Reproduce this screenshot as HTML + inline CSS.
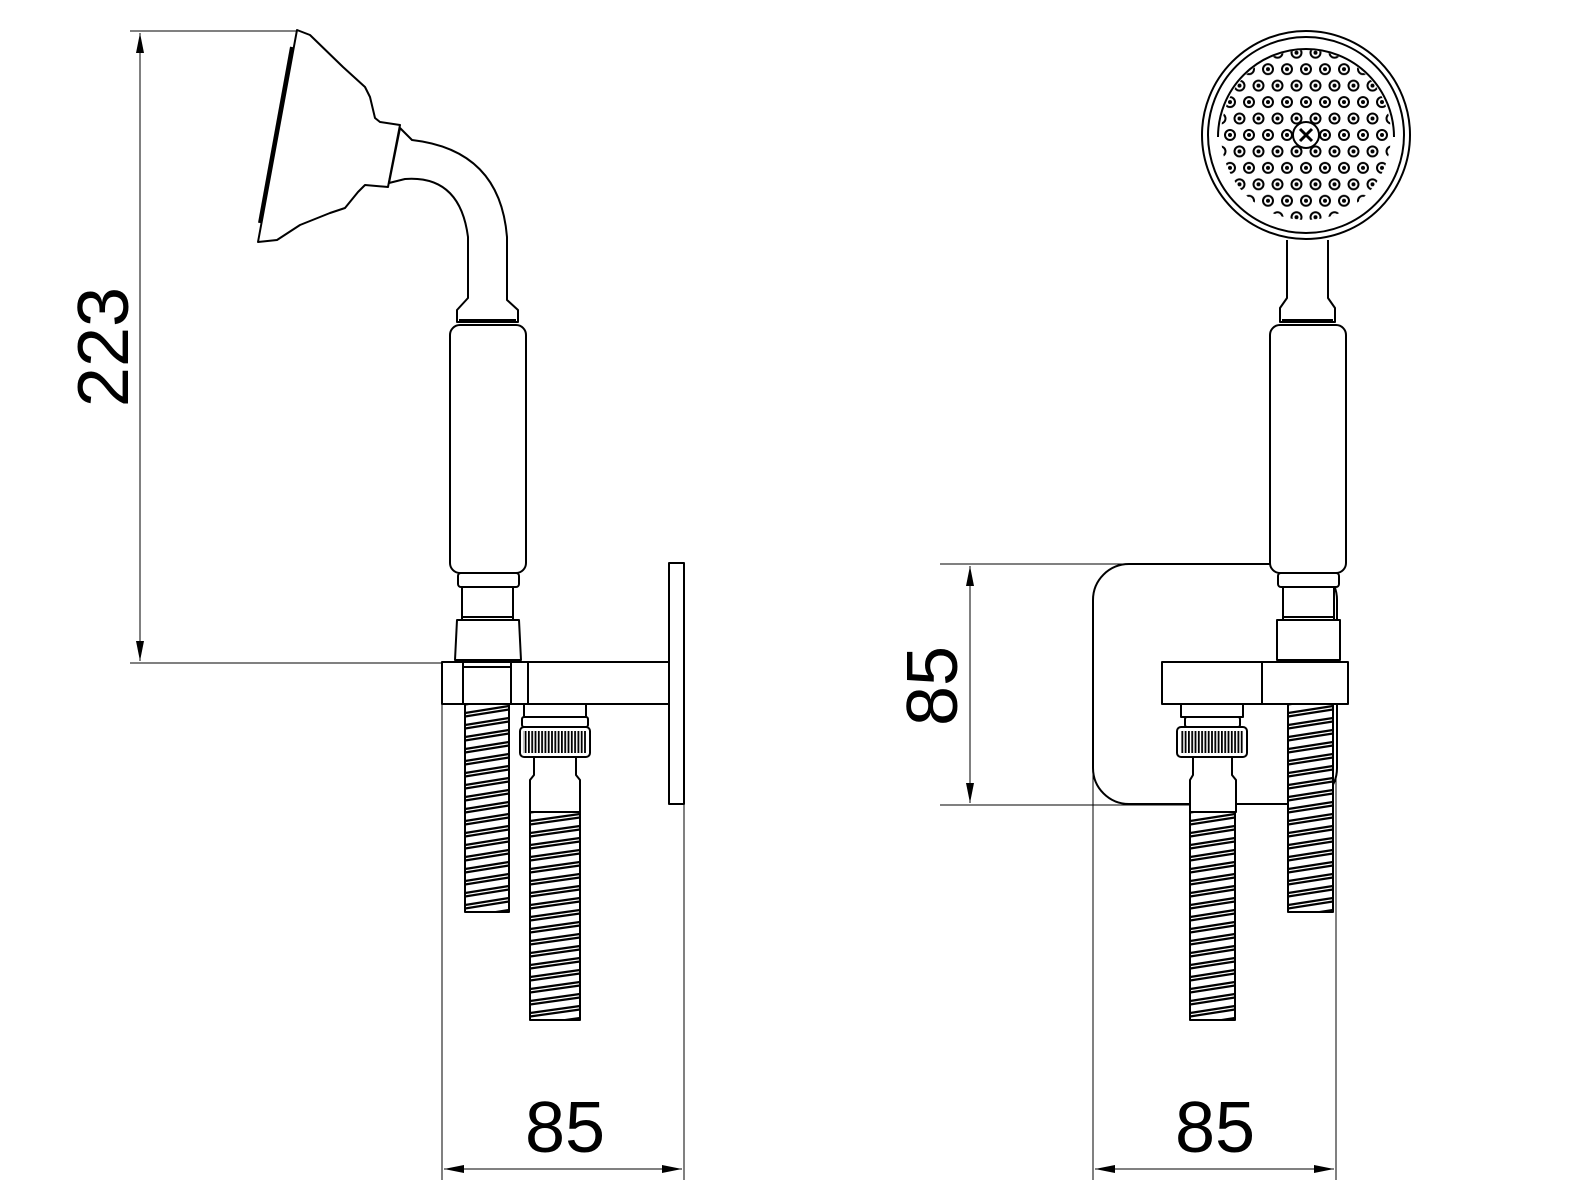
<!DOCTYPE html>
<html><head><meta charset="utf-8"><style>
html,body{margin:0;padding:0;background:#fff;}
svg{display:block}
text{font-family:"Liberation Sans",sans-serif;fill:#000}
</style></head><body>
<svg width="1596" height="1197" viewBox="0 0 1596 1197" xmlns="http://www.w3.org/2000/svg">
<defs>
<marker id="a" viewBox="0 0 20 10" refX="20" refY="5" markerWidth="20" markerHeight="10" markerUnits="userSpaceOnUse" orient="auto-start-reverse"><path d="M0,1 L20,5 L0,9 Z" fill="#000"/></marker>
<pattern id="holes" patternUnits="userSpaceOnUse" x="1296.5" y="125" width="19" height="32.9">
<circle cx="9.5" cy="10" r="5" fill="#fff" stroke="#000" stroke-width="2"/><circle cx="9.5" cy="10" r="2" fill="#000"/>
<circle cx="0" cy="26.45" r="5" fill="#fff" stroke="#000" stroke-width="2"/><circle cx="0" cy="26.45" r="2" fill="#000"/>
<circle cx="19" cy="26.45" r="5" fill="#fff" stroke="#000" stroke-width="2"/><circle cx="19" cy="26.45" r="2" fill="#000"/>
</pattern>
<clipPath id="hc"><circle cx="1306" cy="135" r="85"/></clipPath>
<pattern id="kn" patternUnits="userSpaceOnUse" x="0" y="0" width="3.3" height="40"><rect x="0" y="0" width="1.8" height="40" fill="#000"/></pattern>
<pattern id="h1" patternUnits="userSpaceOnUse" x="465" y="704" width="44" height="12"><rect width="44" height="12" fill="#fff"/><path d="M0,9 L44,2 M0,12.5 L44,5.5 M0,-3 L44,-10 M0,0.5 L44,-6.5 M0,21 L44,14 M0,24.5 L44,17.5" stroke="#000" stroke-width="2.2"/></pattern>
<pattern id="h2" patternUnits="userSpaceOnUse" x="530" y="812" width="50" height="12"><rect width="50" height="12" fill="#fff"/><path d="M0,9 L50,2 M0,12.5 L50,5.5 M0,-3 L50,-10 M0,0.5 L50,-6.5 M0,21 L50,14 M0,24.5 L50,17.5" stroke="#000" stroke-width="2.2"/></pattern>
<pattern id="h3" patternUnits="userSpaceOnUse" x="1190" y="812" width="45" height="12"><rect width="45" height="12" fill="#fff"/><path d="M0,9 L45,2 M0,12.5 L45,5.5 M0,-3 L45,-10 M0,0.5 L45,-6.5 M0,21 L45,14 M0,24.5 L45,17.5" stroke="#000" stroke-width="2.2"/></pattern>
<pattern id="h4" patternUnits="userSpaceOnUse" x="1288" y="704" width="45" height="12"><rect width="45" height="12" fill="#fff"/><path d="M0,9 L45,2 M0,12.5 L45,5.5 M0,-3 L45,-10 M0,0.5 L45,-6.5 M0,21 L45,14 M0,24.5 L45,17.5" stroke="#000" stroke-width="2.2"/></pattern>
</defs>
<g stroke="#000" stroke-width="1" fill="none">
<line x1="130" y1="31" x2="298" y2="31"/>
<line x1="130" y1="663" x2="442" y2="663"/>
<line x1="140" y1="33" x2="140" y2="661" marker-start="url(#a)" marker-end="url(#a)"/>
<line x1="442" y1="704" x2="442" y2="1180"/>
<line x1="684" y1="804" x2="684" y2="1180"/>
<line x1="444" y1="1169" x2="682" y2="1169" marker-start="url(#a)" marker-end="url(#a)"/>
<line x1="940" y1="564" x2="1270" y2="564"/>
<line x1="940" y1="805" x2="1190" y2="805"/>
<line x1="970" y1="566" x2="970" y2="803" marker-start="url(#a)" marker-end="url(#a)"/>
<line x1="1093" y1="680" x2="1093" y2="1180"/>
<line x1="1336" y1="700" x2="1336" y2="1180"/>
<line x1="1095" y1="1169" x2="1334" y2="1169" marker-start="url(#a)" marker-end="url(#a)"/>
</g>
<text x="0" y="0" font-size="72" text-anchor="middle" transform="translate(128,347) rotate(-90)">223</text>
<text x="0" y="0" font-size="72" text-anchor="middle" transform="translate(957,686) rotate(-90)">85</text>
<text x="565" y="1152" font-size="72" text-anchor="middle">85</text>
<text x="1215" y="1152" font-size="72" text-anchor="middle">85</text>

<g stroke="#000" stroke-width="2" fill="#fff" stroke-linejoin="round">
<path d="M297,30 L310,35 L343,67 L365,87 L370,97 L375,118 L380,122 L400,125 L388,187 L365,185 L358,192 L345,208 L330,213 L300,225 L277,240 L258,242 Z"/>
<path d="M292,47 L260,223" stroke-width="4"/>
<path d="M400,128 L412,140 Q500,150 507,237 L507,300 L518,310 L518,322 L457,322 L457,310 L468,298 L468,237 Q460,175 405,179 L389,183 Z"/>
<line x1="459" y1="320" x2="516" y2="320"/>
<rect x="450" y="325" width="76" height="248" rx="10"/>
<rect x="458" y="573" width="61" height="14" rx="3"/>
<rect x="462" y="587" width="51" height="33"/>
<rect x="462" y="617" width="51" height="3"/>
<path d="M457,620 L519,620 L521,660 L455,660 Z"/>
<rect x="669" y="563" width="15" height="241"/>
<rect x="465" y="704" width="44" height="208" fill="url(#h1)"/>
<rect x="530" y="812" width="50" height="208" fill="url(#h2)"/>
<rect x="442" y="662" width="227" height="42"/>
<line x1="463" y1="662" x2="463" y2="704"/>
<line x1="511" y1="662" x2="511" y2="704"/>
<line x1="528" y1="662" x2="528" y2="704"/>
<line x1="463" y1="667" x2="511" y2="667"/>
<rect x="524" y="704" width="62" height="13"/>
<rect x="522" y="717" width="66" height="10" rx="2"/>
<rect x="520" y="727" width="70" height="30" rx="4"/>
<rect x="523" y="731" width="64" height="22" fill="url(#kn)" stroke="none"/>
<path d="M534,757 L576,757 L576,775 L580,780 L580,812 L530,812 L530,780 L534,775 Z"/>
<rect x="1093" y="564" width="244" height="240" rx="36"/>
<rect x="1288" y="704" width="45" height="208" fill="url(#h4)"/>
<rect x="1190" y="812" width="45" height="208" fill="url(#h3)"/>
<circle cx="1306" cy="135" r="104"/>
<circle cx="1306" cy="135" r="98"/>
<path d="M1218,137 A88,88 0 0 1 1394,137" fill="none"/>
<rect x="1218" y="47" width="176" height="176" fill="url(#holes)" stroke="none" clip-path="url(#hc)"/>
<circle cx="1306" cy="135" r="13"/>
<path d="M1300,129 L1312,141 M1312,129 L1300,141" stroke-width="3"/>
<path d="M1287,240 L1287,298 L1280,308 L1280,322 L1335,322 L1335,308 L1328,298 L1328,240" />
<line x1="1282" y1="320" x2="1333" y2="320"/>
<rect x="1270" y="325" width="76" height="248" rx="10"/>
<rect x="1278" y="573" width="61" height="14" rx="3"/>
<rect x="1283" y="587" width="51" height="33"/>
<rect x="1283" y="617" width="51" height="3"/>
<path d="M1277,620 L1340,620 L1340,660 L1277,660 Z"/>
<rect x="1162" y="662" width="100" height="42"/>
<rect x="1262" y="662" width="86" height="42"/>
<rect x="1181" y="704" width="62" height="13"/>
<rect x="1185" y="717" width="55" height="10" rx="2"/>
<rect x="1177" y="727" width="70" height="30" rx="4"/>
<rect x="1180" y="731" width="64" height="22" fill="url(#kn)" stroke="none"/>
<path d="M1193,757 L1232,757 L1232,775 L1236,780 L1236,812 L1190,812 L1190,780 L1193,775 Z"/>
</g>
</svg>
</body></html>
